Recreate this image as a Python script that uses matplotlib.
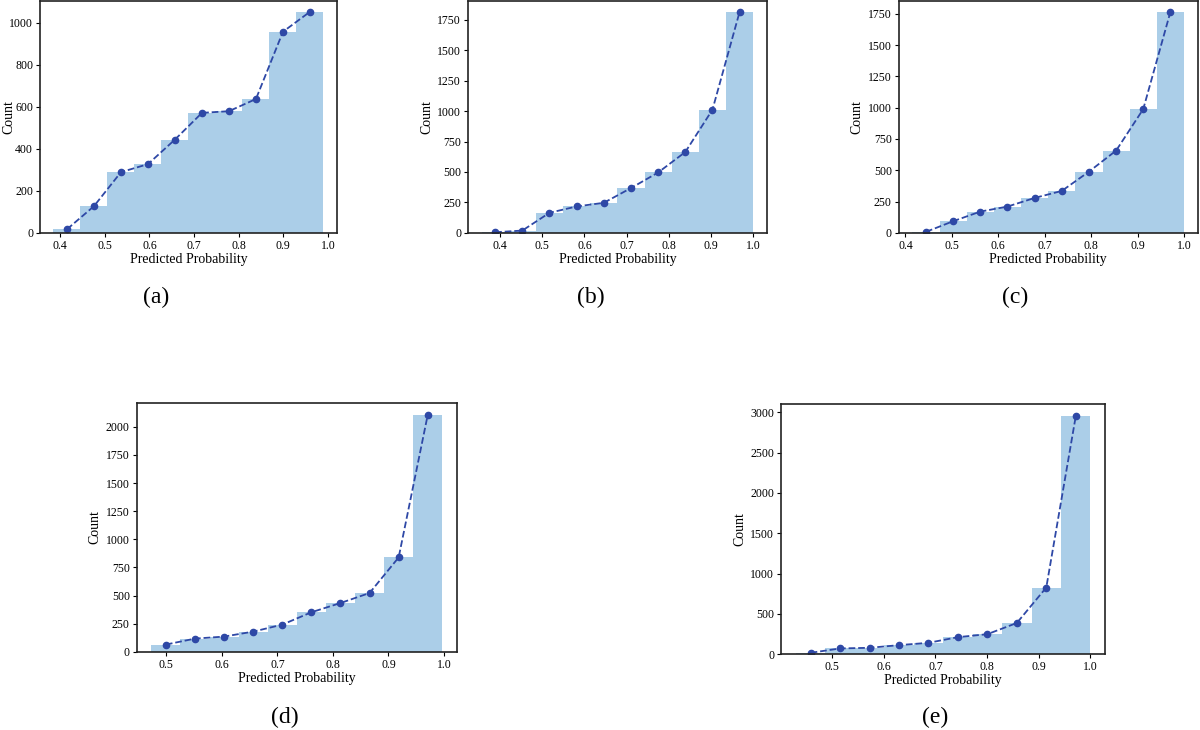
import matplotlib
matplotlib.use('Agg')
import matplotlib.pyplot as plt
import numpy as np

plt.rcParams['font.family'] = ['Liberation Serif', 'DejaVu Serif']

# bin range (lo, hi) and the 10 counts per panel
range_a = (0.385, 0.990)
counts_a = [17, 127, 289, 327, 444, 571, 579, 637, 957, 1052]

range_b = (0.356, 1.000)
counts_b = [5, 19, 165, 217, 247, 368, 496, 664, 1012, 1816]

range_c = (0.415, 1.000)
counts_c = [8, 93, 170, 210, 279, 335, 489, 657, 989, 1766]

range_d = (0.473, 0.997)
counts_d = [65, 118, 136, 180, 242, 352, 434, 523, 839, 2106]

range_e = (0.430, 1.000)
counts_e = [16, 70, 78, 111, 140, 210, 247, 386, 826, 2951]

panel_labels = ['(a)', '(b)', '(c)', '(d)', '(e)']

panels = [(range_a, counts_a), (range_b, counts_b), (range_c, counts_c),
          (range_d, counts_d), (range_e, counts_e)]

# axes rectangles in figure fractions
rects = [[0.0333, 0.681, 0.2475, 0.318],
         [0.390, 0.681, 0.249, 0.318],
         [0.749, 0.681, 0.249, 0.318],
         [0.114, 0.107, 0.2667, 0.341],
         [0.651, 0.104, 0.270, 0.342]]
label_pos = [(0.130, 0.592), (0.492, 0.592), (0.846, 0.592),
             (0.2375, 0.017), (0.779, 0.017)]

bar_color = '#abcee8'
line_color = '#2e48a6'

fig = plt.figure(figsize=(12, 7.3), dpi=100)

for i, ((lo, hi), counts) in enumerate(panels):
    ax = fig.add_axes(rects[i])
    edges = np.linspace(lo, hi, len(counts) + 1)
    centers = (edges[:-1] + edges[1:]) / 2
    ax.hist(centers, bins=edges, weights=counts, color=bar_color, edgecolor='none')
    ax.plot(centers, counts, '--o', color=line_color, linewidth=1.3, markersize=4.5)
    ax.set_xlabel('Predicted Probability', fontsize=10, labelpad=1)
    ax.set_ylabel('Count', fontsize=10, labelpad=3)
    if i == 0:
        # first panel sits against the left edge of the figure
        ax.yaxis.set_label_coords(-0.083, 0.5)
    ax.tick_params(labelsize=8.5, length=3, width=0.8, pad=2)
    for s in ax.spines.values():
        s.set_linewidth(1.2)
        s.set_color('#222222')
    fig.text(label_pos[i][0], label_pos[i][1], panel_labels[i], fontsize=17,
             ha='center', va='center')

plt.savefig('out.png', dpi=100)
